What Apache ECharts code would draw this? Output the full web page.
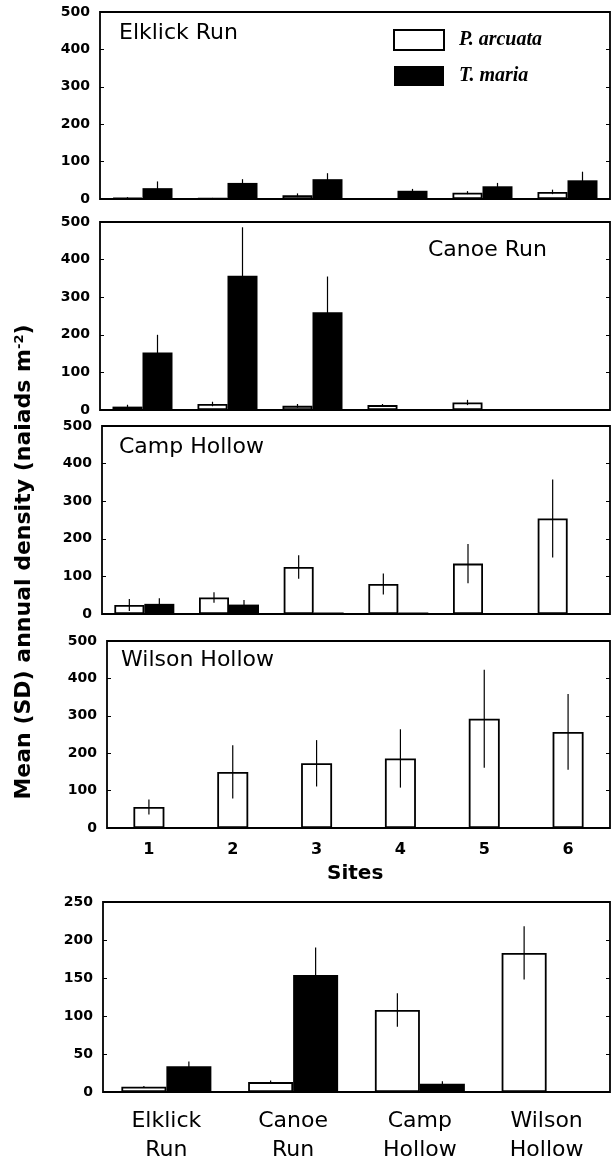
<!DOCTYPE html>
<html>
<head>
    <meta charset="utf-8">
    <title>Naiad density</title>
    <script src="https://cdn.jsdelivr.net/npm/echarts@6/dist/echarts.min.js"></script>
    <style>
        html, body { margin: 0; padding: 0; background: #fff; }
    </style>
</head>
<body>
<div id="main" style="width: 611px;height:1165px;"></div>
<script type="text/javascript">
    // sites and streams
    var sites = ['1', '2', '3', '4', '5', '6'];
    var streams = ['Elklick Run', 'Canoe Run', 'Camp Hollow', 'Wilson Hollow'];
    var speciesA = 'P. arcuata';
    var speciesB = 'T. maria';

    // mean and SD per site
    var elklickPa = [3, 2, 10, 1, 17, 19];
    var elklickPaSd = [2, 1, 5, 1, 4, 6];
    var elklickTm = [29, 43, 53, 22, 34, 50];
    var elklickTmSd = [18, 10, 16, 5, 9, 23];

    var canoePa = [9, 16, 11, 13, 20, 0];
    var canoePaSd = [5, 6, 5, 3, 7, 0];
    var canoeTm = [153, 357, 260, 0, 0, 0];
    var canoeTmSd = [47, 129, 95, 0, 0, 0];

    var campPa = [24, 44, 125, 80, 134, 254];
    var campPaSd = [16, 14, 31, 28, 52, 104];
    var campTm = [27, 25, 4, 4, 0, 0];
    var campTmSd = [15, 12, 0, 0, 0, 0];

    var wilsonPa = [56, 150, 173, 186, 292, 257];
    var wilsonPaSd = [20, 71, 62, 78, 131, 101];

    // stream means
    var streamPa = [7, 13, 108, 183];
    var streamPaSd = [1, 2, 22, 35];
    var streamTm = [34, 154, 11, 0];
    var streamTmSd = [6, 36, 3, 0];

    var myChart = echarts.init(document.getElementById('main'));

    var tickFont = {fontFamily: 'DejaVu Sans', fontWeight: 'bold', fontSize: 14, color: '#000'};

    // panel boxes
    var panels = [
        {left: 100, top: 12, height: 187, max: 500, step: 100, cats: sites},
        {left: 100, top: 222, height: 188, max: 500, step: 100, cats: sites},
        {left: 102, top: 426, height: 188, max: 500, step: 100, cats: sites},
        {left: 107, top: 641, height: 187, max: 500, step: 100, cats: sites},
        {left: 103, top: 902, height: 190, max: 250, step: 50, cats: streams}
    ];

    var grids = [], xAxes = [], yAxes = [];
    panels.forEach(function (p, i) {
        grids.push({
            left: p.left, right: 1, top: p.top, height: p.height,
            show: true, borderColor: '#000', borderWidth: 1.8, backgroundColor: 'transparent'
        });
        xAxes.push({
            type: 'category', gridIndex: i, data: p.cats,
            axisLine: {show: false}, axisTick: {show: false},
            axisLabel: {
                show: i >= 3,
                margin: i === 3 ? 14 : 15,
                fontFamily: 'DejaVu Sans',
                fontWeight: i === 3 ? 'bold' : 'normal',
                fontSize: i === 3 ? 16 : 22,
                lineHeight: i === 3 ? 16 : 29,
                color: '#000',
                formatter: function (v) { return v.replace(' ', '\n'); }
            }
        });
        // left axis with labels
        yAxes.push({
            type: 'value', gridIndex: i, min: 0, max: p.max, interval: p.step,
            splitLine: {show: false}, axisLine: {show: false},
            axisTick: {show: true, inside: true, length: 4, lineStyle: {color: '#000'}},
            axisLabel: Object.assign({margin: 10}, tickFont)
        });
        // right axis, ticks only
        yAxes.push({
            type: 'value', gridIndex: i, position: 'right', min: 0, max: p.max, interval: p.step,
            splitLine: {show: false}, axisLine: {show: false},
            axisTick: {show: true, inside: true, length: 4, lineStyle: {color: '#000'}},
            axisLabel: {show: false}
        });
    });

    function barA(gi, vals, w) {
        return {
            name: speciesA, type: 'bar', xAxisIndex: gi, yAxisIndex: gi * 2,
            barWidth: w, barGap: '0%', data: vals,
            itemStyle: {color: '#fff', borderColor: '#000', borderWidth: 1.8},
            emphasis: {disabled: true}
        };
    }
    function barB(gi, vals, w) {
        return {
            name: speciesB, type: 'bar', xAxisIndex: gi, yAxisIndex: gi * 2,
            barWidth: w, barGap: '0%', data: vals,
            itemStyle: {color: '#000'},
            emphasis: {disabled: true}
        };
    }
    // vertical SD line, dx shifts it onto the bar
    function errs(gi, means, sds, dx) {
        var d = [];
        means.forEach(function (m, i) {
            if (sds[i] > 0) d.push([i, Math.max(0, m - sds[i]), m + sds[i]]);
        });
        return {
            type: 'custom', xAxisIndex: gi, yAxisIndex: gi * 2, z: 5,
            encode: {x: 0, y: [1, 2]},
            renderItem: function (params, api) {
                var lo = api.coord([api.value(0), api.value(1)]);
                var hi = api.coord([api.value(0), api.value(2)]);
                return {
                    type: 'line',
                    shape: {x1: lo[0] + dx, y1: lo[1], x2: hi[0] + dx, y2: hi[1]},
                    style: {stroke: '#000', lineWidth: 1.2}
                };
            },
            data: d
        };
    }

    var series = [
        barA(0, elklickPa, 30), barB(0, elklickTm, 30),
        errs(0, elklickPa, elklickPaSd, -15), errs(0, elklickTm, elklickTmSd, 15),
        barA(1, canoePa, 30), barB(1, canoeTm, 30),
        errs(1, canoePa, canoePaSd, -15), errs(1, canoeTm, canoeTmSd, 15),
        barA(2, campPa, 30), barB(2, campTm, 30),
        errs(2, campPa, campPaSd, -15), errs(2, campTm, campTmSd, 15),
        barA(3, wilsonPa, 31),
        errs(3, wilsonPa, wilsonPaSd, 0),
        barA(4, streamPa, 45), barB(4, streamTm, 45),
        errs(4, streamPa, streamPaSd, -22.5), errs(4, streamTm, streamTmSd, 22.5)
    ];

    var titleFont = {fontFamily: 'DejaVu Sans', fontSize: 22, fill: '#000'};

    option = {
        animation: false,
        grid: grids,
        xAxis: xAxes,
        yAxis: yAxes,
        legend: {
            data: [speciesA, speciesB],
            orient: 'vertical',
            left: 393, top: 29, padding: 0,
            icon: 'rect',
            itemWidth: 50, itemHeight: 20, itemGap: 15,
            selectedMode: false,
            textStyle: {
                fontFamily: 'Liberation Serif', fontStyle: 'italic', fontWeight: 'bold',
                fontSize: 20, color: '#000', padding: [0, 0, 0, 10]
            }
        },
        graphic: [
            {type: 'text', left: 119, top: 22, style: Object.assign({text: streams[0]}, titleFont)},
            {type: 'text', left: 428, top: 239, style: Object.assign({text: streams[1]}, titleFont)},
            {type: 'text', left: 119, top: 436, style: Object.assign({text: streams[2]}, titleFont)},
            {type: 'text', left: 121, top: 649, style: Object.assign({text: streams[3]}, titleFont)},
            {type: 'text', left: 327, top: 864, style: {text: 'Sites', fontFamily: 'DejaVu Sans', fontWeight: 'bold', fontSize: 20, fill: '#000'}},
            {
                type: 'text', x: 24, y: 562, rotation: Math.PI / 2,
                style: {
                    text: 'Mean (SD) annual density (naiads m{sup|-2})',
                    fontFamily: 'DejaVu Sans', fontWeight: 'bold', fontSize: 22, fill: '#000',
                    align: 'center', verticalAlign: 'middle',
                    rich: {sup: {fontFamily: 'DejaVu Sans', fontWeight: 'bold', fontSize: 13, verticalAlign: 'top', fill: '#000'}}
                }
            }
        ],
        series: series
    };
    myChart.setOption(option);
</script>
</body>
</html>
